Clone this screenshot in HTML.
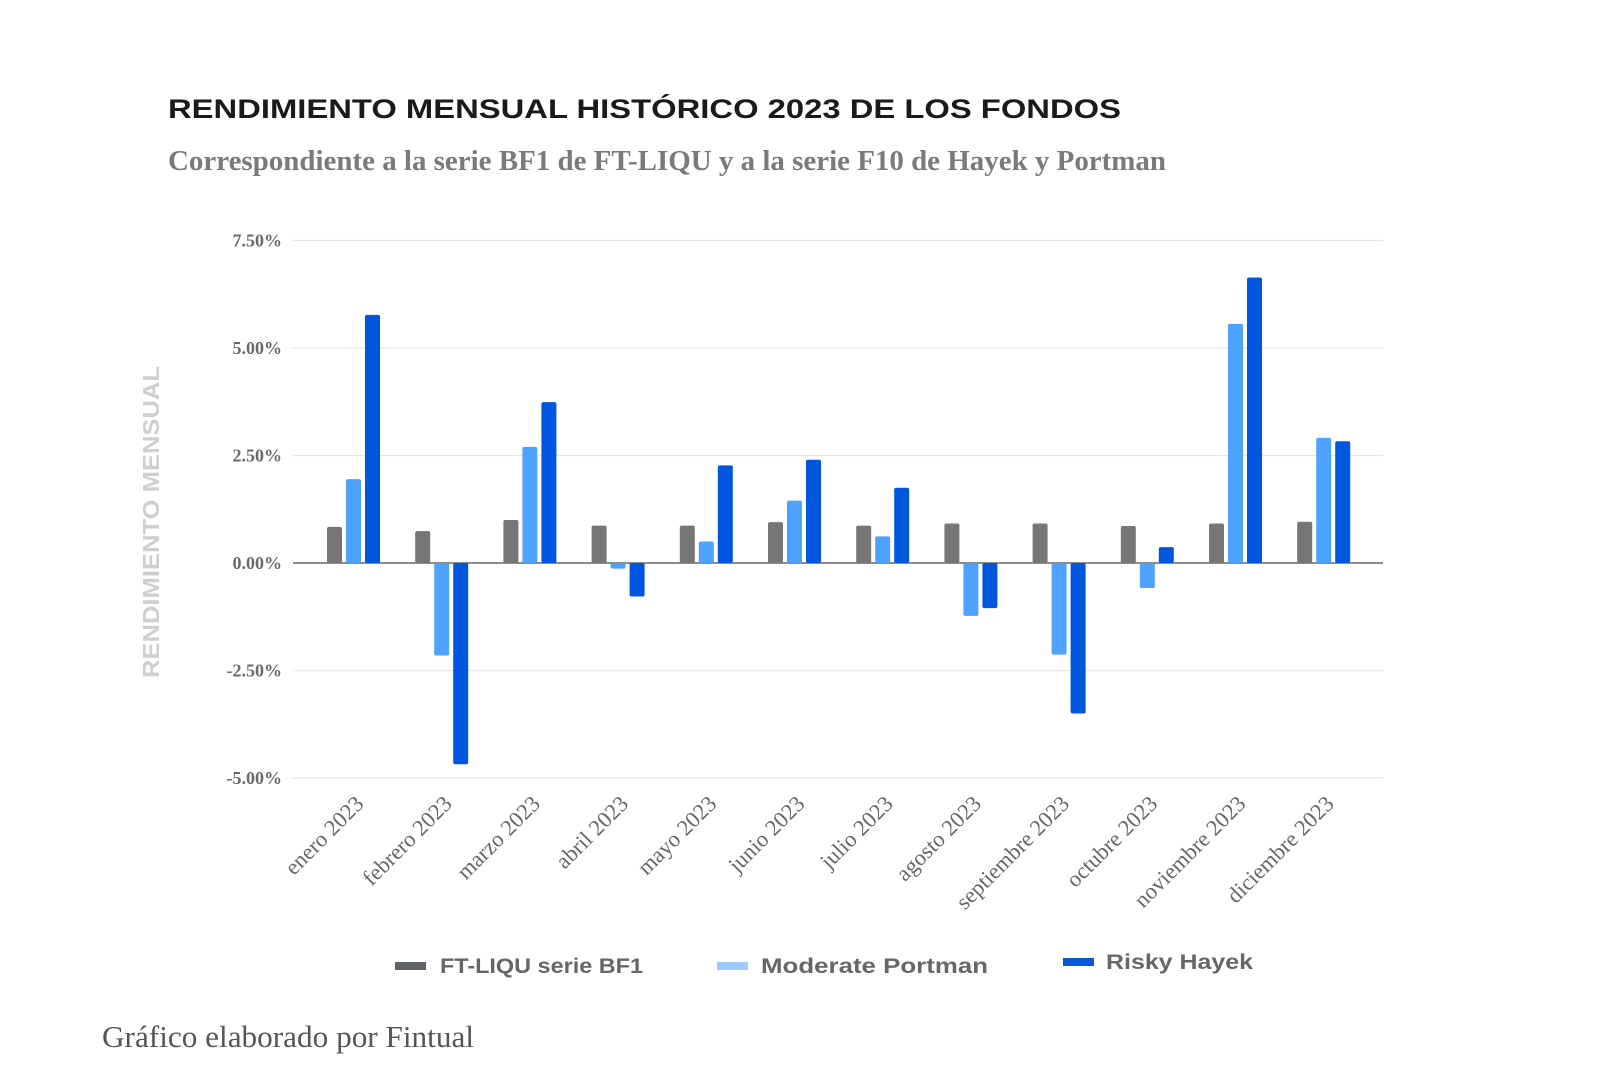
<!DOCTYPE html>
<html><head><meta charset="utf-8"><style>
html,body{margin:0;padding:0;background:#fff;}
svg{display:block;}
</style></head><body>
<svg id="chart" width="1600" height="1080" viewBox="0 0 1600 1080" xmlns="http://www.w3.org/2000/svg">
<rect width="1600" height="1080" fill="#fff"/>
<text x="168" y="118" font-family="Liberation Sans, sans-serif" font-weight="bold" font-size="27" fill="#1a1a1a" textLength="953" lengthAdjust="spacingAndGlyphs">RENDIMIENTO MENSUAL HISTÓRICO 2023 DE LOS FONDOS</text>
<text x="168" y="170" font-family="Liberation Serif, serif" font-weight="bold" font-size="28" fill="#7a7a7a" textLength="998" lengthAdjust="spacingAndGlyphs">Correspondiente a la serie BF1 de FT-LIQU y a la serie F10 de Hayek y Portman</text>
<g id="grid"></g>
<g id="bars"></g>
<g id="xlabels"></g>
<text transform="translate(159,522) rotate(-90)" text-anchor="middle" font-family="Liberation Sans, sans-serif" font-weight="bold" font-size="23" fill="#cfcfcf" textLength="312" lengthAdjust="spacingAndGlyphs">RENDIMIENTO MENSUAL</text>
<g>
  <rect x="395" y="962" width="31" height="8" fill="#5f6368"/>
  <text x="440" y="973" font-family="Liberation Sans, sans-serif" font-weight="bold" font-size="21" fill="#666" textLength="203" lengthAdjust="spacingAndGlyphs">FT-LIQU serie BF1</text>
  <rect x="717" y="962" width="31" height="8" fill="#9ecbff"/>
  <text x="761" y="973" font-family="Liberation Sans, sans-serif" font-weight="bold" font-size="21" fill="#666" textLength="227" lengthAdjust="spacingAndGlyphs">Moderate Portman</text>
  <rect x="1063" y="958" width="31" height="8" fill="#0a57d8"/>
  <text x="1106" y="969" font-family="Liberation Sans, sans-serif" font-weight="bold" font-size="21" fill="#666" textLength="147" lengthAdjust="spacingAndGlyphs">Risky Hayek</text>
</g>
<text x="102" y="1047" font-family="Liberation Serif, serif" font-size="31" fill="#555" textLength="372" lengthAdjust="spacingAndGlyphs">Gráfico elaborado por Fintual</text>
</svg>
<script>
const categories = ["enero 2023","febrero 2023","marzo 2023","abril 2023","mayo 2023","junio 2023","julio 2023","agosto 2023","septiembre 2023","octubre 2023","noviembre 2023","diciembre 2023"];
const ftLiqu = [0.84,0.74,1.00,0.87,0.87,0.95,0.87,0.92,0.92,0.86,0.92,0.96];
const moderatePortman = [1.95,-2.15,2.70,-0.13,0.50,1.45,0.62,-1.23,-2.13,-0.58,5.56,2.91];
const riskyHayek = [5.77,-4.68,3.74,-0.78,2.27,2.40,1.75,-1.05,-3.50,0.37,6.64,2.83];
const yTicks = [7.5,5,2.5,0,-2.5,-5];
const yTickLabels = ["7.50%","5.00%","2.50%","0.00%","-2.50%","-5.00%"];

const NS = "http://www.w3.org/2000/svg";
const plotLeft = 293, plotRight = 1383;
function y(v){ return 563 - v * 43; }
function xCenter(i){ return 353 + i * 88.2; }
function mk(tag, attrs){ const e = document.createElementNS(NS, tag); for (const k in attrs) e.setAttribute(k, attrs[k]); return e; }

const grid = document.getElementById('grid');
yTicks.forEach((t, i) => {
  const ln = mk('line', {x1: plotLeft, x2: plotRight, y1: y(t), y2: y(t), stroke: t === 0 ? '#666' : '#e6e6e6', 'stroke-width': t === 0 ? 1.5 : 1.2});
  
  
  grid.appendChild(ln);
  const tx = mk('text', {x: 282, y: y(t) + 6, 'text-anchor': 'end', 'font-family': 'Liberation Serif, serif', 'font-weight': 'bold', 'font-size': 18, fill: '#6a6a6a'});
  tx.textContent = yTickLabels[i];
  
  
  grid.appendChild(tx);
});

const bars = document.getElementById('bars');
const series = [ftLiqu, moderatePortman, riskyHayek];
const colors = ['#767676', '#4da3ff', '#0057dd'];
const names = ['bar-ft-liqu', 'bar-moderate-portman', 'bar-risky-hayek'];
const bw = 15, step = 19;
categories.forEach((c, i) => {
  series.forEach((s, k) => {
    const v = s[i];
    const x = xCenter(i) - 26 + k * step;
    const top = Math.min(y(v), y(0)), h = Math.abs(y(v) - y(0));
    const r = mk('rect', {x: x, y: top, width: bw, height: Math.max(h, 0.5), rx: 2, fill: colors[k]});
    
    
    bars.appendChild(r);
  });
  const lab = mk('text', {transform: `translate(${xCenter(i) + 12},${805}) rotate(-45)`, 'text-anchor': 'end', 'font-family': 'Liberation Serif, serif', 'font-size': 22.5, fill: '#666'});
  lab.textContent = c;
  
  
  document.getElementById('xlabels').appendChild(lab);
});
</script>
</body></html>
